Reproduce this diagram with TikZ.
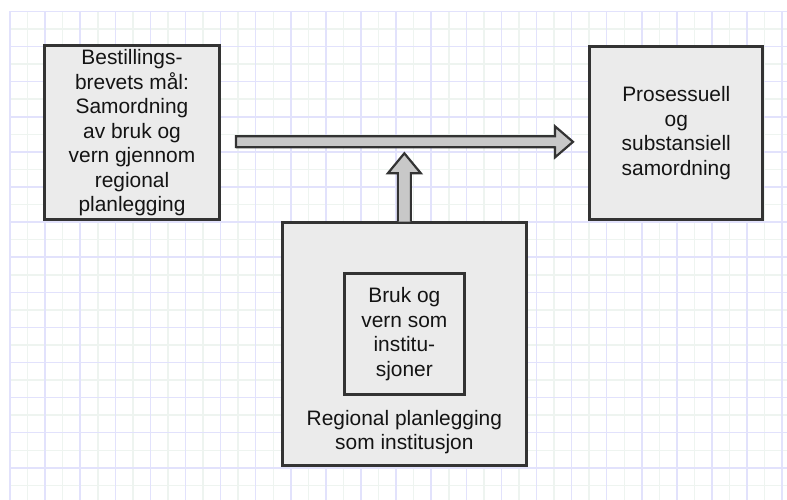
\documentclass[tikz,border=0pt]{standalone}
\usepackage{fontspec}
\setmainfont{Liberation Sans}
\usetikzlibrary{calc}

\definecolor{gridmajor}{RGB}{226,226,252}
\definecolor{gridminor}{RGB}{238,244,240}
\definecolor{boxfill}{RGB}{235,235,235}
\definecolor{boxline}{RGB}{51,51,51}
\definecolor{arrowfill}{RGB}{200,200,200}

\begin{document}
\begin{tikzpicture}[x=1pt,y=-1pt,
  boxtext/.style={font=\fontsize{20.9}{24.5}\selectfont, align=center, text=black!92},
  box/.style={boxtext, draw=boxline, line width=3pt, fill=boxfill, inner sep=0pt},
  blockarrow/.style={draw=boxline, line width=2.2pt, fill=arrowfill, line join=miter}]

\useasboundingbox (0,0) rectangle (787,500);
\fill[white] (0,0) rectangle (787,500);

% squared paper: light lines every 17.55pt, alternating tints
\foreach \i in {1,3,...,43}{
  \draw[gridminor, line width=1.5pt] ({10+17.55*\i},11.5) -- ({10+17.55*\i},500);
}
\foreach \j in {1,3,...,27}{
  \draw[gridminor, line width=1.5pt] (10,{11.5+17.55*\j}) -- (787,{11.5+17.55*\j});
}
\foreach \i in {0,2,...,44}{
  \draw[gridmajor, line width=1.5pt] ({10+17.55*\i},11.5) -- ({10+17.55*\i},500);
}
\foreach \j in {0,2,...,26}{
  \draw[gridmajor, line width=1.5pt] (10,{11.5+17.55*\j}) -- (787,{11.5+17.55*\j});
}

% boxes
\node[box, minimum width=174.4, minimum height=173.7] (goal) at (132,132.65)
  {Bestillings-\\brevets mål:\\Samordning\\av bruk og\\vern gjennom\\regional\\planlegging};
\node[box, minimum width=173, minimum height=172.7] (result) at (676.3,132.85)
  {Prosessuell\\og\\substansiell\\samordning};
\node[box, minimum width=243.7, minimum height=243] (frame) at (404.35,343.7) {};
\node[box, minimum width=120.3, minimum height=120.7] (inner) at (404.35,334.15)
  {Bruk og\\vern som\\institu-\\sjoner};
\node[boxtext] (framelabel) at (404.35,432) {Regional planlegging\\som institusjon};

% horizontal block arrow from the goal box towards the result box
\coordinate (hs) at ($(goal.east)+(15.3,9)$);
\coordinate (ht) at ($(result.west)+(-15.3,9)$);
\draw[blockarrow]
  ($(hs)+(0,-5.5)$) -- ($(ht)+(-18,-5.5)$) -- ($(ht)+(-18,-15.5)$) -- (ht)
  -- ($(ht)+(-18,15.5)$) -- ($(ht)+(-18,5.5)$) -- ($(hs)+(0,5.5)$) -- cycle;

% vertical block arrow rising from the institution frame
\coordinate (vs) at ($(frame.north)+(0,1)$);
\coordinate (vt) at ($(frame.north)+(0,-67.4)$);
\draw[blockarrow]
  ($(vs)+(-6.5,0)$) -- ($(vt)+(-6.5,20)$) -- ($(vt)+(-16.5,20)$) -- (vt)
  -- ($(vt)+(16.5,20)$) -- ($(vt)+(6.5,20)$) -- ($(vs)+(6.5,0)$);
\end{tikzpicture}
\end{document}
